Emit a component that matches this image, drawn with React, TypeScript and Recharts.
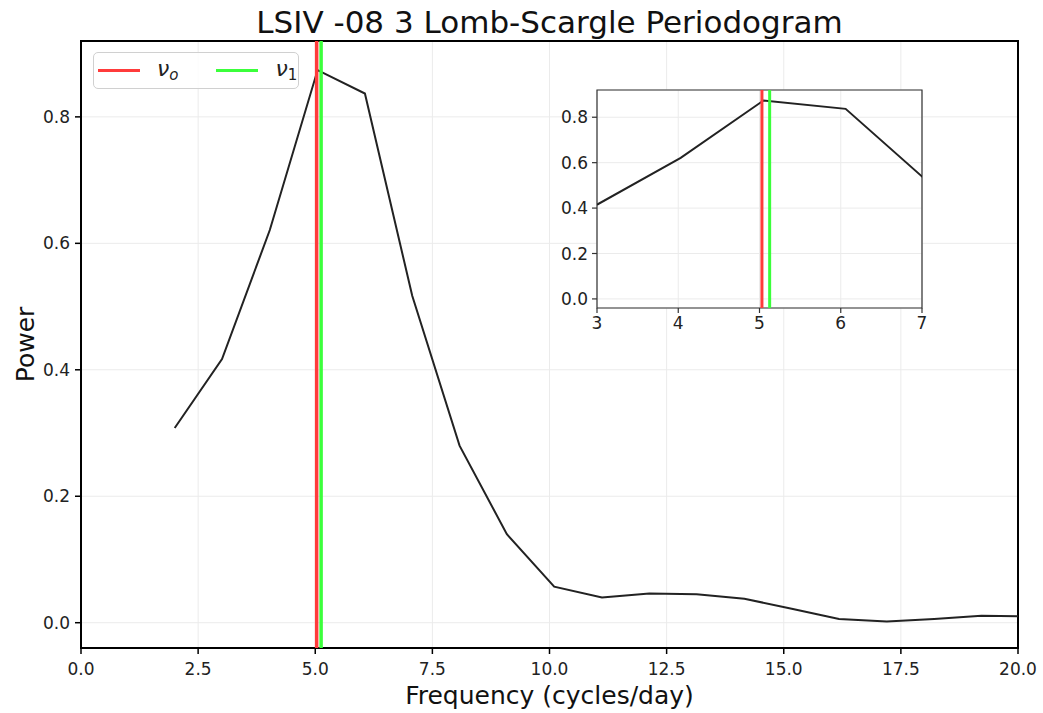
import {
  CartesianGrid,
  Label,
  Line,
  LineChart,
  ReferenceArea,
  ReferenceLine,
  XAxis,
  YAxis,
} from "recharts";

const FONT = "DejaVu Sans, Verdana, sans-serif";

// periodogram
const frequency = [2.0, 3.01, 4.03, 5.05, 6.06, 7.07, 8.08, 9.09, 10.1, 11.12, 12.13, 13.14, 14.16, 15.17, 16.18, 17.2, 18.21, 19.22, 20.23];
const power = [0.308, 0.417, 0.621, 0.874, 0.837, 0.517, 0.28, 0.14, 0.057, 0.04, 0.046, 0.045, 0.038, 0.022, 0.006, 0.002, 0.006, 0.011, 0.01];

const nu0 = 5.03;
const nu1 = 5.125;

const mainXTicks = [0, 2.5, 5, 7.5, 10, 12.5, 15, 17.5, 20];
const insetXTicks = [3, 4, 5, 6, 7];
const yTicks = [0, 0.2, 0.4, 0.6, 0.8];
const yDomain = [-0.04, 0.92];

const data = frequency.map((f, i) => ({ f, p: power[i] }));

const RED = "#ff3b3b";
const GREEN = "#3bff3b";
const tickStyle = { fill: "#222", fontSize: 17, fontFamily: FONT };

function LegendBox() {
  const item = (color: string, sub: string, subItalic: boolean) => (
    <div style={{ display: "flex", alignItems: "center" }}>
      <div style={{ width: 42, height: 3, background: color }} />
      <span style={{ marginLeft: 17, fontFamily: FONT, fontSize: 22, fontStyle: "italic", color: "#222", lineHeight: 1 }}>
        ν
        <sub style={{ fontSize: 15, fontStyle: subItalic ? "italic" : "normal", verticalAlign: -4 }}>{sub}</sub>
      </span>
    </div>
  );
  return (
    <div
      style={{
        position: "absolute",
        left: 93,
        top: 52,
        width: 206,
        height: 37,
        boxSizing: "border-box",
        border: "1px solid #d0d0d0",
        borderRadius: 5,
        background: "rgba(255,255,255,0.85)",
        display: "flex",
        alignItems: "center",
        paddingLeft: 4,
        gap: 38,
      }}
    >
      {item(RED, "o", true)}
      {item(GREEN, "1", false)}
    </div>
  );
}

export default function App() {
  return (
    <div style={{ position: "absolute", left: 0, top: 0, width: 1043, height: 713, background: "#fff" }}>
      <div
        style={{
          position: "absolute",
          left: 81,
          width: 937,
          top: 7,
          textAlign: "center",
          fontFamily: FONT,
          fontSize: 31,
          lineHeight: "31px",
          color: "#111",
        }}
      >
        LSIV -08 3 Lomb-Scargle Periodogram
      </div>

      <LineChart width={1043} height={713} data={data} margin={{ top: 41, right: 25, bottom: 0, left: 0 }}>
        <CartesianGrid stroke="#ebebeb" strokeWidth={1} />
        <XAxis
          dataKey="f"
          type="number"
          domain={[0, 20]}
          ticks={mainXTicks}
          allowDataOverflow
          height={65}
          tick={tickStyle}
          tickFormatter={(v: number) => v.toFixed(1)}
          tickSize={6}
          tickMargin={9}
          tickLine={{ stroke: "#000", strokeWidth: 1.5 }}
          axisLine={false}
        >
          <Label
            value="Frequency (cycles/day)"
            position="insideBottom"
            offset={9}
            style={{ fill: "#111", fontSize: 25, fontFamily: FONT }}
          />
        </XAxis>
        <YAxis
          type="number"
          domain={yDomain}
          ticks={yTicks}
          allowDataOverflow
          width={81}
          tick={tickStyle}
          tickFormatter={(v: number) => v.toFixed(1)}
          tickSize={6}
          tickMargin={5}
          tickLine={{ stroke: "#000", strokeWidth: 1.5 }}
          axisLine={false}
        >
          <Label
            value="Power"
            angle={-90}
            position="insideLeft"
            offset={25}
            style={{ fill: "#111", fontSize: 25, fontFamily: FONT, textAnchor: "middle" }}
          />
        </YAxis>
        <ReferenceArea x1={0} x2={20} y1={yDomain[0]} y2={yDomain[1]} fill="none" stroke="#000" strokeWidth={2} />
        <Line dataKey="p" type="linear" stroke="#222" strokeWidth={2} dot={false} isAnimationActive={false} />
        <ReferenceLine x={nu0} stroke={RED} strokeWidth={3.5} />
        <ReferenceLine x={nu1} stroke={GREEN} strokeWidth={3.5} />
      </LineChart>

      <LegendBox />

      <div style={{ position: "absolute", left: 597, top: 90, width: 325, height: 218, background: "#fff" }} />
      <div style={{ position: "absolute", left: 540, top: 80 }}>
        <LineChart width={400} height={260} data={data} margin={{ top: 10, right: 18, bottom: 0, left: 0 }}>
          <CartesianGrid stroke="#ebebeb" strokeWidth={1} />
          <XAxis
            dataKey="f"
            type="number"
            domain={[3, 7]}
            ticks={insetXTicks}
            allowDataOverflow
            height={32}
            tick={tickStyle}
            tickSize={5}
            tickMargin={4}
            tickLine={{ stroke: "#333", strokeWidth: 1.2 }}
            axisLine={false}
          />
          <YAxis
            type="number"
            domain={yDomain}
            ticks={yTicks}
            allowDataOverflow
            width={57}
            tick={tickStyle}
            tickFormatter={(v: number) => v.toFixed(1)}
            tickSize={5}
            tickMargin={4}
            tickLine={{ stroke: "#333", strokeWidth: 1.2 }}
            axisLine={false}
          />
          <ReferenceArea x1={3} x2={7} y1={yDomain[0]} y2={yDomain[1]} fill="none" stroke="#333" strokeWidth={1.2} />
          <Line dataKey="p" type="linear" stroke="#222" strokeWidth={2} dot={false} isAnimationActive={false} />
          <ReferenceLine x={nu0} stroke={RED} strokeWidth={3} />
          <ReferenceLine x={nu1} stroke={GREEN} strokeWidth={3} />
        </LineChart>
      </div>
    </div>
  );
}
